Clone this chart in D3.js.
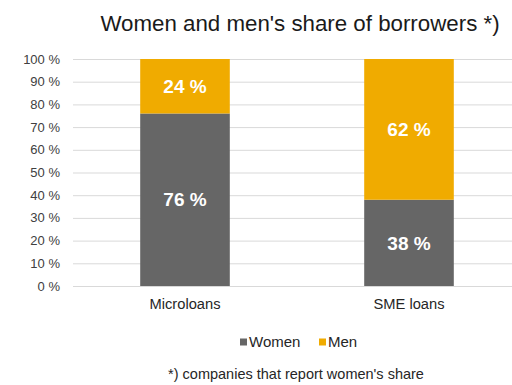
<!doctype html>
<html>
<head>
  <meta charset="utf-8">
  <script src="https://cdnjs.cloudflare.com/ajax/libs/d3/7.8.5/d3.min.js"></script>
  <style>
    body { margin: 0; background: white; }
    text { font-family: 'Liberation Sans', Arial, sans-serif; }
  </style>
</head>
<body>
  <script>
    const categories = ['Microloans', 'SME loans'];
    const women = [76, 38];
    const men = [24, 62];
    const seriesNames = ['Women', 'Men'];
    const colors = ['#666666', '#f0ab00'];
    const yTicks = [0, 10, 20, 30, 40, 50, 60, 70, 80, 90, 100];

    const width = 512, height = 385;
    const margin = {left: 73, right: -9, top: 59, bottom: 99};

    const svg = d3.select('body').append('svg')
      .attr('width', width)
      .attr('height', height);

    const x = d3.scaleBand()
      .domain(categories)
      .range([margin.left, width - margin.right])
      .paddingInner(0.6)
      .paddingOuter(0.3);

    const y = d3.scaleLinear()
      .domain([0, 100])
      .range([height - margin.bottom, margin.top]);

    // gridlines
    svg.append('g').selectAll('line').data(yTicks).join('line')
      .attr('x1', margin.left)
      .attr('x2', width - margin.right)
      .attr('y1', d => y(d) + 0.5)
      .attr('y2', d => y(d) + 0.5)
      .attr('stroke', '#d9d9d9')
      .attr('stroke-width', 1);

    // y tick labels
    svg.append('g').selectAll('text').data(yTicks).join('text')
      .attr('x', 60)
      .attr('y', d => y(d))
      .attr('dy', '0.35em')
      .attr('text-anchor', 'end')
      .attr('font-size', 13)
      .attr('fill', '#404040')
      .text(d => d + ' %');

    const rows = categories.map((c, i) => ({cat: c, Women: women[i], Men: men[i]}));
    const stacked = d3.stack().keys(seriesNames)(rows);

    const layers = svg.append('g').selectAll('g').data(stacked).join('g')
      .attr('fill', (d, i) => colors[i]);

    layers.selectAll('rect').data(d => d).join('rect')
      .attr('x', d => x(d.data.cat))
      .attr('width', x.bandwidth())
      .attr('y', d => y(d[1]))
      .attr('height', d => y(d[0]) - y(d[1]));

    layers.selectAll('text').data(d => d).join('text')
      .attr('x', d => x(d.data.cat) + x.bandwidth() / 2)
      .attr('y', d => y((d[0] + d[1]) / 2))
      .attr('dy', '0.35em')
      .attr('text-anchor', 'middle')
      .attr('font-size', 19)
      .attr('font-weight', 'bold')
      .attr('fill', 'white')
      .text(d => (d[1] - d[0]) + ' %');

    // category labels
    svg.append('g').selectAll('text').data(categories).join('text')
      .attr('x', d => x(d) + x.bandwidth() / 2)
      .attr('y', 304)
      .attr('dy', '0.35em')
      .attr('text-anchor', 'middle')
      .attr('font-size', 14.7)
      .attr('fill', '#262626')
      .text(d => d);

    // title
    svg.append('text')
      .attr('x', 300)
      .attr('y', 23)
      .attr('dy', '0.35em')
      .attr('text-anchor', 'middle')
      .attr('font-size', 22.3)
      .attr('fill', '#1a1a1a')
      .text("Women and men's share of borrowers *)");

    // legend
    const legendX = [240, 319];
    const legend = svg.append('g').selectAll('g').data(seriesNames).join('g')
      .attr('transform', (d, i) => `translate(${legendX[i]},342)`);
    legend.append('rect')
      .attr('x', 0).attr('y', -3.5)
      .attr('width', 7).attr('height', 7)
      .attr('fill', (d, i) => colors[i]);
    legend.append('text')
      .attr('x', 9)
      .attr('dy', '0.35em')
      .attr('font-size', 15)
      .attr('fill', '#262626')
      .text(d => d);

    // footnote
    svg.append('text')
      .attr('x', 296)
      .attr('y', 374)
      .attr('dy', '0.35em')
      .attr('text-anchor', 'middle')
      .attr('font-size', 14.5)
      .attr('fill', '#262626')
      .text("*) companies that report women's share");
  </script>
</body>
</html>
